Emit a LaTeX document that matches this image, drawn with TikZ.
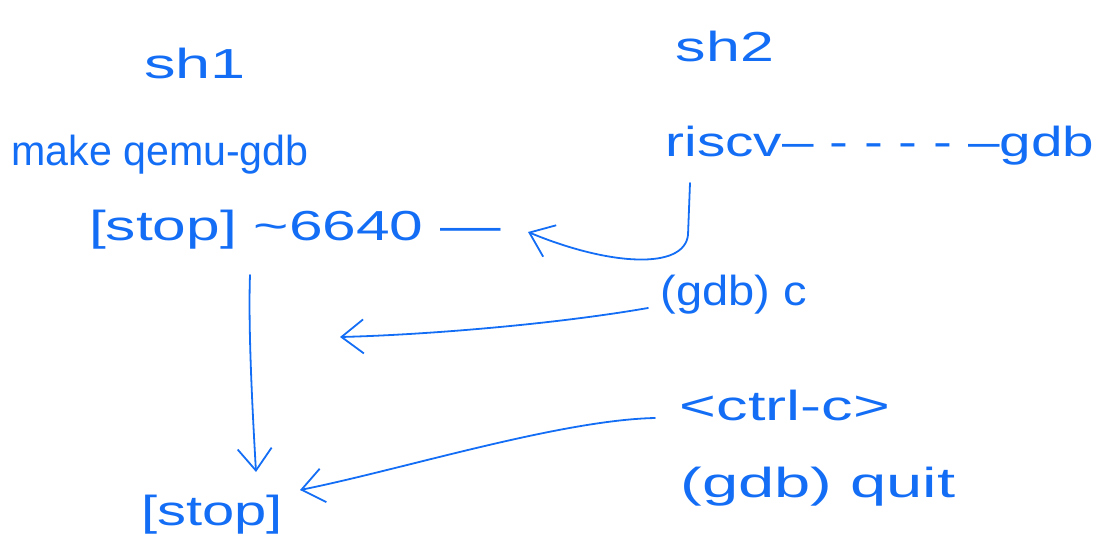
\documentclass[tikz,border=0pt]{standalone}
\usepackage{fontspec}
\setmainfont{Liberation Sans}
\usepackage{graphicx}
\usetikzlibrary{arrows.meta,calc}
\definecolor{ink}{RGB}{20,110,245}
\newcommand{\sx}[2]{\scalebox{#1}[1]{#2}}
\tikzset{
  hw/.style={inner sep=0pt, text=ink, font=\fontsize{42}{46}\selectfont},
  link/.style={draw=ink, line width=1.8pt, line cap=round, line join=round,
    -{Straight Barb[length=22pt,width=34pt,line width=1.8pt]}}
}
\begin{document}
\begin{tikzpicture}[x=1pt,y=-1pt]
\useasboundingbox (0,0) rectangle (1099,544);
\node[hw] (sh1) at (195,63) {\sx{1.5}{sh1}};
\node[hw] (sh2) at (725,46) {\sx{1.45}{sh2}};
\node[hw] (make) at (160,155) {\sx{0.98}{make qemu-gdb}};
\node[hw] (stop1) at (295,230) {\sx{1.44}{[stop] \textasciitilde6640 —}};
\node[hw] (riscv) at (880,146) {\sx{1.35}{riscv– - - - - –gdb}};
\node[hw] (gdbc) at (734,295) {\sx{1.12}{(gdb) c}};
\node[hw] (ctrlc) at (785,405) {\sx{1.5}{<ctrl-c>}};
\node[hw] (quit) at (818,487) {\sx{1.55}{(gdb) quit}};
\node[hw] (stop2) at (212,515) {\sx{1.38}{[stop]}};
\coordinate (c2) at (340,337);
\draw[link] ($(riscv.center)+(-190,37)$) -- ++(-2,52)
  .. controls (684,270) and (610,266) .. ($(stop1.center)+(233,2)$);
\draw[link] ($(gdbc.center)+(-86,13)$) .. controls (550,325) and (420,335) .. (c2);
\draw[link] ($(stop1.center)+(-45,45)$) .. controls (248,330) and (253,420) .. ($(stop2.center)+(44,-43)$);
\draw[link] ($(ctrlc.center)+(-130,13)$) .. controls (560,420) and (400,470) .. ($(stop2.center)+(88,-25)$);
\end{tikzpicture}
\end{document}
